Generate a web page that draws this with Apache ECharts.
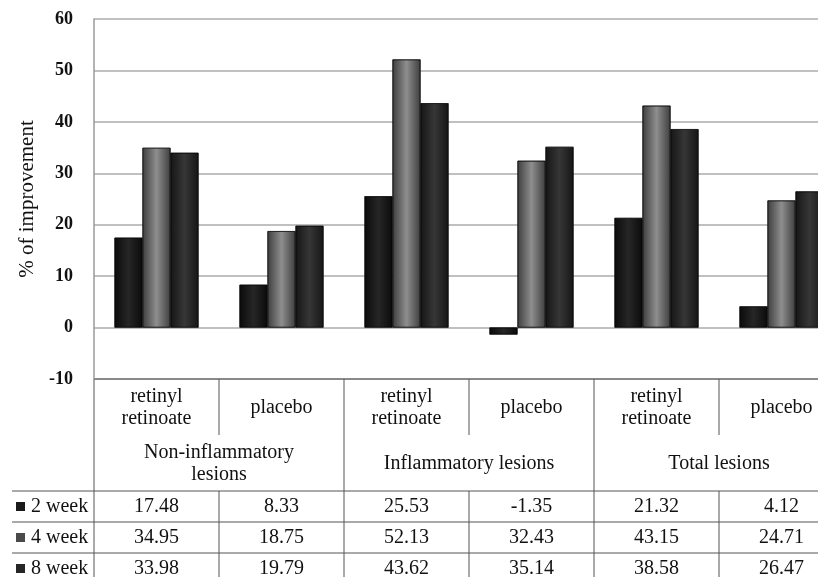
<!DOCTYPE html>
<html><head><meta charset="utf-8">
<script src="https://cdn.jsdelivr.net/npm/echarts@6/dist/echarts.min.js"></script>
<style>html,body{margin:0;padding:0;background:#fff}#c{width:818px;height:577px}</style>
</head><body><div id="c"></div>
<script>
// ---- data ----
const categories = ['retinyl\nretinoate', 'placebo', 'retinyl\nretinoate', 'placebo', 'retinyl\nretinoate', 'placebo'];
const groups = ['Non-inflammatory\nlesions', 'Inflammatory lesions', 'Total lesions'];
const seriesNames = ['2 week', '4 week', '8 week'];
const week2 = [17.48, 8.33, 25.53, -1.35, 21.32, 4.12];
const week4 = [34.95, 18.75, 52.13, 32.43, 43.15, 24.71];
const week8 = [33.98, 19.79, 43.62, 35.14, 38.58, 26.47];
const yMin = -10, yMax = 60, yStep = 10;
const yTitle = '% of improvement';

const FONT = "'Liberation Serif','Times New Roman',serif";
function grad(edge, mid) {
  return new echarts.graphic.LinearGradient(0, 0, 1, 0, [
    {offset: 0, color: edge}, {offset: 0.5, color: mid}, {offset: 1, color: edge}
  ]);
}
const barColors = [grad('#0b0b0b', '#262626'), grad('#3e3e3e', '#8e8e8e'), grad('#161616', '#363636')];
const markColors = ['#1a1a1a', '#4a4a4a', '#262626'];
const allSeries = [week2, week4, week8];

const chart = echarts.init(document.getElementById('c'), null, {renderer: 'canvas'});
chart.setOption({
  animation: false,
  backgroundColor: '#fff',
  grid: {left: 94, top: 19, right: -26, height: 360, outerBoundsMode: 'none', containLabel: false},
  xAxis: {
    type: 'category', data: categories,
    axisLine: {show: false}, axisTick: {show: false}, axisLabel: {show: false}, splitLine: {show: false}
  },
  yAxis: {
    type: 'value', min: yMin, max: yMax, interval: yStep,
    name: yTitle, nameLocation: 'middle', nameGap: 56,
    nameTextStyle: {fontFamily: FONT, fontSize: 21, color: '#111'},
    axisLine: {show: true, lineStyle: {color: '#9a9a9a', width: 1.5}},
    axisTick: {show: false},
    axisLabel: {margin: 21, fontFamily: FONT, fontSize: 18, fontWeight: 'bold', color: '#111'},
    splitLine: {lineStyle: {color: '#ababab', width: 1.5}}
  },
  series: allSeries.map((d, i) => ({
    name: seriesNames[i], type: 'bar', data: d,
    barWidth: 28, barGap: '0%',
    itemStyle: {color: barColors[i], borderColor: '#0a0a0a', borderWidth: 0.6}
  }))
});

// ---- data table under the plot ----
const cx = i => chart.convertToPixel({xAxisIndex: 0}, i);
const cw = cx(1) - cx(0);
const bounds = [];
for (let i = 0; i <= categories.length; i++) bounds.push(cx(0) - cw / 2 + i * cw);
const yTop = chart.convertToPixel({yAxisIndex: 0}, yMin);
const rowCat = [yTop, yTop + 56];
const rowGrp = [yTop + 56, yTop + 112];
const rowH = 31;
const dataTop = yTop + 112;
const W = 818, H = 577;
const lineStyle = {stroke: '#555', lineWidth: 1};
const g = [];
function hline(x1, x2, y, st) { g.push({type: 'line', shape: {x1, y1: y, x2, y2: y}, style: st || lineStyle, silent: true}); }
function vline(x, y1, y2) { g.push({type: 'line', shape: {x1: x, y1, x2: x, y2}, style: lineStyle, silent: true}); }
function text(t, x, y, align) {
  g.push({type: 'text', x, y, silent: true, style: {text: t, fontFamily: FONT, fontSize: 20, fill: '#111',
    align: align || 'center', verticalAlign: 'middle', lineHeight: 22}});
}
hline(bounds[0], W, yTop, {stroke: '#777', lineWidth: 1.5});
for (let r = 0; r < 3; r++) hline(12, W, dataTop + r * rowH);
bounds.forEach((b, i) => {
  if (i === 0 || i % 2 === 0) vline(b, yTop, H);
  else { vline(b, rowCat[0], rowCat[1]); vline(b, dataTop, H); }
});
categories.forEach((c, i) => text(c, cx(i), (rowCat[0] + rowCat[1]) / 2 + 1));
groups.forEach((gname, k) => text(gname, (bounds[2 * k] + bounds[2 * k + 2]) / 2, (rowGrp[0] + rowGrp[1]) / 2 + 1));
allSeries.forEach((d, r) => {
  const yc = dataTop + r * rowH + rowH / 2;
  g.push({type: 'rect', shape: {x: 16, y: yc - 4.5, width: 9, height: 9}, style: {fill: markColors[r]}, silent: true});
  text(seriesNames[r], 31, yc, 'left');
  d.forEach((v, i) => text(v.toFixed(2), cx(i), yc));
});
chart.setOption({graphic: {elements: g}});
</script>
</body></html>
